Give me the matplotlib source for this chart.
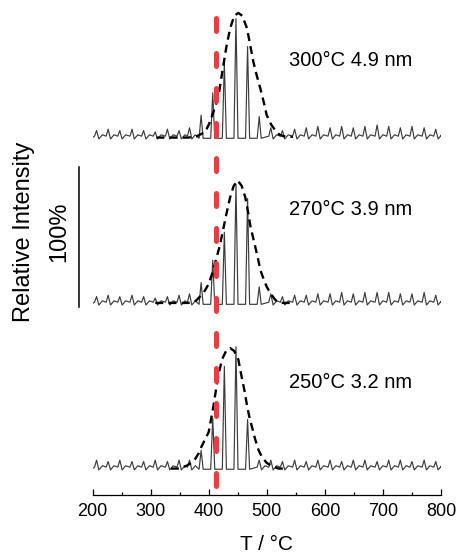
import numpy as np
import matplotlib.pyplot as plt

plt.rcParams['font.family'] = ['Liberation Sans', 'DejaVu Sans']

# --- DATA ---
# peak positions in T (°C), shared by the three traces
peak_T = [207, 227, 247, 268, 288, 308, 329, 349, 367, 387, 407, 427, 447, 467, 487,
          507, 527, 548, 568, 588, 609, 629, 649, 669, 690, 710, 730, 750, 771, 791]

# peak heights in % of the scale bar
height_300 = [6, 7, 6, 7, 6, 5, 7, 6, 8, 17, 33, 55, 86, 66, 16,
              8, 6, 7, 8, 9, 8, 9, 8, 9, 10, 9, 8, 9, 8, 7]
height_270 = [6, 7, 6, 7, 6, 5, 6, 7, 8, 16, 32, 52, 86, 76, 13,
              8, 6, 7, 7, 8, 8, 9, 8, 9, 9, 9, 8, 8, 9, 7]
height_250 = [7, 6, 7, 6, 6, 7, 6, 7, 7, 14, 37, 74, 88, 36, 7,
              7, 6, 7, 6, 7, 7, 6, 7, 7, 6, 7, 7, 6, 7, 6]

# dashed envelopes (T, %)
env_300_T = [310, 330, 350, 365, 380, 394, 401, 408, 417, 425, 431, 437, 444, 451, 458,
             466, 472, 477, 483, 489, 495, 500, 508, 515, 522, 529, 545]
env_300_I = [1, 1, 1, 1, 2, 5, 11, 19, 31, 52, 67, 79, 88, 90, 88,
             79, 66, 55, 45, 36, 26, 17, 10, 6, 3, 2, 1.5]
env_270_T = [308, 325, 345, 365, 378, 385, 393, 400, 408, 413, 419, 425, 431, 437, 443,
             450, 457, 463, 468, 472, 480, 485, 489, 495, 500, 507, 515, 525, 540]
env_270_I = [1.5, 1.5, 1.5, 1.5, 3, 6, 10, 15, 25, 33, 42, 54, 66, 77, 85,
             89, 85, 77, 66, 56, 42, 33, 25, 18, 13, 8, 3.5, 1.5, 1.5]
env_250_T = [335, 350, 362, 370, 377, 383, 388, 394, 400, 404, 408, 411, 414, 418, 423,
             430, 437, 444, 451, 457, 462, 466, 470, 475, 480, 486, 492, 500, 508, 520, 532]
env_250_I = [1, 1, 3, 5, 8, 12, 17, 22, 27, 36, 45, 53, 61, 70, 79,
             85, 87, 85, 79, 66, 56, 46, 38, 30, 22, 14, 9, 5, 3, 1, 1]

labels = ['300°C 4.9 nm', '270°C 3.9 nm', '250°C 3.2 nm']
onset_T = 413

# --- LAYOUT ---
OFFSETS = [2.543, 1.357, 0.179]   # baseline of each trace (1.0 = 100 %)
LABEL_Y = [3.10, 2.036, 0.80]
LINE_C = '#3c3c3c'
RED = '#ee3b3b'


def build_trace(heights):
    """Polyline through the listed peaks: sharp apex, dip, small shoulder."""
    xs, ys = [200], [1]
    for T, h in zip(peak_T, heights):
        if h >= 12:
            xs += [T - 3.5, T, T + 3.5]
            ys += [0.5, h, 0.5]
        else:
            xs += [T - 3.5, T, T + 4, T + 10]
            ys += [2, h, 0, 3]
    xs.append(800)
    ys.append(2)
    return np.array(xs), np.array(ys) / 100.0


fig = plt.figure(figsize=(4.58, 5.6), dpi=100)
ax = fig.add_axes([92.5 / 458, 65 / 560, 348.5 / 458, 490 / 560])

traces = [(height_300, env_300_T, env_300_I),
          (height_270, env_270_T, env_270_I),
          (height_250, env_250_T, env_250_I)]

for (heights, eT, eI), off, lab, ly in zip(traces, OFFSETS, labels, LABEL_Y):
    x, y = build_trace(heights)
    ax.plot(x, y + off, color=LINE_C, lw=0.85, zorder=2)
    ax.plot(eT, np.array(eI) / 100.0 + off, color='black', lw=1.7,
            dashes=(3.4, 2.2), zorder=3)
    ax.text(539, ly, lab, fontsize=14.5, va='center', ha='left')

# onset marker
ax.plot([onset_T, onset_T], [3.407, -0.036], color=RED, lw=3.6,
        dashes=(2.6, 4.4), dash_capstyle='round', clip_on=False, zorder=4)

# 100 % scale bar
ax.plot([176.7, 176.7], [1.343, 2.343], color='black', lw=1.1, clip_on=False)
ax.text(142, 1.88, '100%', rotation=90, fontsize=17, ha='center', va='center')
ax.text(82, 1.88, 'Relative Intensity', rotation=90, fontsize=17,
        ha='center', va='center')

ax.set_xlim(200, 800)
ax.set_ylim(0, 3.5)
ax.set_xticks(range(200, 801, 100))
ax.set_xticks(range(250, 800, 100), minor=True)
ax.set_yticks([])
for s in ['left', 'right', 'top']:
    ax.spines[s].set_visible(False)
ax.spines['bottom'].set_linewidth(0.9)
ax.tick_params(axis='x', which='major', direction='in', length=4.5, width=0.9,
               labelsize=13, pad=5.5)
ax.tick_params(axis='x', which='minor', direction='in', length=2.3, width=0.9)
ax.set_xlabel('T / °C', fontsize=15, labelpad=11)
ax.patch.set_alpha(0)

fig.savefig('out.png', dpi=100)
